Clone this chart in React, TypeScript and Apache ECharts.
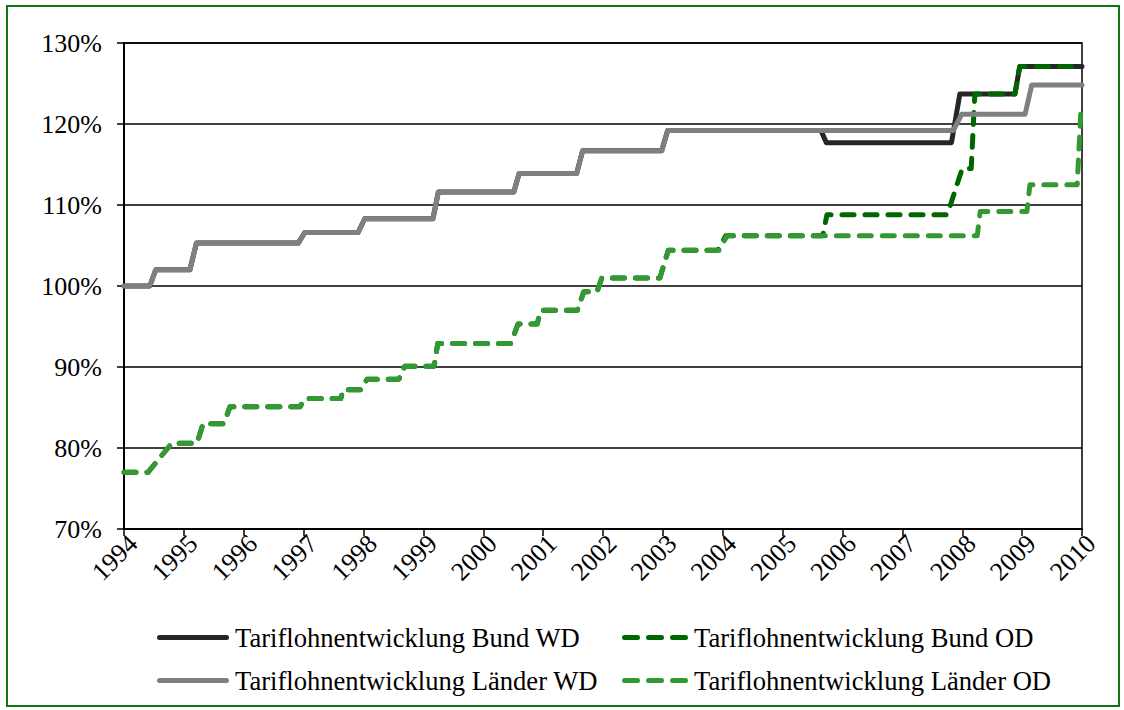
import React, { useEffect, useRef } from "react";
import * as echarts from "echarts";

const X_MIN = 1994;
const X_MAX = 2010;
const Y_MIN = 70;
const Y_MAX = 130;

const seriesNames = [
  "Tariflohnentwicklung Bund WD",
  "Tariflohnentwicklung Bund OD",
  "Tariflohnentwicklung Länder WD",
  "Tariflohnentwicklung Länder OD",
];

// [year, percent]
const bundWD: [number, number][] = [
  [1994.0, 100.0], [1994.43, 100.0], [1994.53, 102.0], [1995.1, 102.0], [1995.21, 105.3],
  [1996.91, 105.3], [1997.02, 106.6], [1997.91, 106.6], [1998.02, 108.3], [1999.16, 108.3],
  [1999.25, 111.6], [2000.51, 111.6], [2000.6, 113.9], [2001.56, 113.9], [2001.66, 116.7],
  [2002.98, 116.7], [2003.08, 119.2], [2005.64, 119.2], [2005.73, 117.7], [2007.82, 117.7],
  [2007.96, 123.7], [2008.88, 123.7], [2008.96, 127.1], [2010.0, 127.1],
];

const landerWD: [number, number][] = [
  [1994.0, 100.0], [1994.43, 100.0], [1994.53, 102.0], [1995.1, 102.0], [1995.21, 105.3],
  [1996.91, 105.3], [1997.02, 106.6], [1997.91, 106.6], [1998.02, 108.3], [1999.16, 108.3],
  [1999.25, 111.6], [2000.51, 111.6], [2000.6, 113.9], [2001.56, 113.9], [2001.66, 116.7],
  [2002.98, 116.7], [2003.08, 119.2], [2007.85, 119.2], [2007.99, 121.2], [2009.05, 121.2],
  [2009.16, 124.8], [2010.0, 124.8],
];

const bundOD: [number, number][] = [
  [1994.0, 77.0], [1994.4, 77.0], [1994.8, 80.6], [1995.22, 80.6], [1995.32, 83.0],
  [1995.67, 83.0], [1995.77, 85.1], [1996.94, 85.1], [1997.02, 86.1], [1997.62, 86.1],
  [1997.66, 87.2], [1997.96, 87.2], [1998.06, 88.5], [1998.59, 88.5], [1998.69, 90.1],
  [1999.18, 90.1], [1999.24, 92.9], [2000.46, 92.9], [2000.58, 95.3], [2000.9, 95.3],
  [2000.96, 97.0], [2001.57, 97.0], [2001.68, 99.3], [2001.9, 99.3], [2001.98, 101.0],
  [2002.95, 101.0], [2003.09, 104.4], [2003.92, 104.4], [2004.05, 106.2], [2005.67, 106.2],
  [2005.74, 108.8], [2007.75, 108.8], [2008.0, 114.5], [2008.15, 114.5], [2008.21, 123.7],
  [2008.88, 123.7], [2008.96, 127.1], [2010.0, 127.1],
];

const landerOD: [number, number][] = [
  [1994.0, 77.0], [1994.4, 77.0], [1994.8, 80.6], [1995.22, 80.6], [1995.32, 83.0],
  [1995.67, 83.0], [1995.77, 85.1], [1996.94, 85.1], [1997.02, 86.1], [1997.62, 86.1],
  [1997.66, 87.2], [1997.96, 87.2], [1998.06, 88.5], [1998.59, 88.5], [1998.69, 90.1],
  [1999.18, 90.1], [1999.24, 92.9], [2000.46, 92.9], [2000.58, 95.3], [2000.9, 95.3],
  [2000.96, 97.0], [2001.57, 97.0], [2001.68, 99.3], [2001.9, 99.3], [2001.98, 101.0],
  [2002.95, 101.0], [2003.09, 104.4], [2003.94, 104.4], [2004.07, 106.2], [2008.25, 106.2],
  [2008.3, 109.2], [2009.08, 109.2], [2009.13, 112.5], [2009.92, 112.5], [2009.98, 121.5],
];

const FONT = "Liberation Serif, Times New Roman, serif";

const SOLID_ICON = "path://M2.5,0H69.5A2.5,2.5,0,0,1,69.5,5H2.5A2.5,2.5,0,0,1,2.5,0Z";
const DASH_ICON =
  "path://M2.5,0H15.5A2.5,2.5,0,0,1,15.5,5H2.5A2.5,2.5,0,0,1,2.5,0Z" +
  "M26.5,0H39.5A2.5,2.5,0,0,1,39.5,5H26.5A2.5,2.5,0,0,1,26.5,0Z" +
  "M50.5,0H63.5A2.5,2.5,0,0,1,63.5,5H50.5A2.5,2.5,0,0,1,50.5,0Z";

export default function App() {
  const ref = useRef<HTMLDivElement>(null);

  useEffect(() => {
    if (!ref.current) return;
    const chart = echarts.init(ref.current, null, { renderer: "svg" });

    const solid = (color: string) => ({ color, width: 5, type: "solid", cap: "round", join: "round" });
    const dashed = (color: string) => ({
      color,
      width: 5,
      type: [12, 11],
      cap: "round",
      join: "round",
    });

    const mk = (name: string, data: [number, number][], ls: any) => ({
      name,
      type: "line",
      data,
      showSymbol: false,
      symbol: "none",
      itemStyle: { color: ls.color },
      lineStyle: ls,
      emphasis: { disabled: true },
    });

    const legendCommon = {
      orient: "vertical",
      top: 624,
      padding: 0,
      itemGap: 16,
      itemHeight: 5,
      selectedMode: false,
      textStyle: { fontFamily: FONT, fontSize: 26.6, color: "#000", padding: [0, 0, 0, 1] },
    };

    chart.setOption({
      animation: false,
      backgroundColor: "#fff",
      textStyle: { fontFamily: FONT },
      grid: {
        left: 124,
        top: 43,
        right: 42,
        bottom: 181,
        show: true,
        borderColor: "#000",
        borderWidth: 1.5,
        backgroundColor: "transparent",
      },
      legend: [
        {
          ...legendCommon,
          left: 157,
          itemWidth: 72,
          data: [
            { name: seriesNames[0], icon: SOLID_ICON },
            { name: seriesNames[2], icon: SOLID_ICON },
          ],
        },
        {
          ...legendCommon,
          left: 622,
          itemWidth: 66,
          data: [
            { name: seriesNames[1], icon: DASH_ICON },
            { name: seriesNames[3], icon: DASH_ICON },
          ],
        },
      ],
      xAxis: {
        type: "value",
        min: X_MIN,
        max: X_MAX,
        interval: 1,
        axisLine: { show: true, onZero: false, lineStyle: { color: "#000", width: 2 } },
        axisTick: { show: true, length: 7, lineStyle: { color: "#000", width: 1.5 } },
        splitLine: { show: false },
        axisLabel: {
          rotate: 45,
          margin: 1,
          verticalAlign: "top",
          color: "#000",
          fontFamily: FONT,
          fontSize: 26,
          formatter: (v: number) => String(Math.round(v)),
        },
      },
      yAxis: {
        type: "value",
        min: Y_MIN,
        max: Y_MAX,
        interval: 10,
        axisLine: { show: true, onZero: false, lineStyle: { color: "#000", width: 2 } },
        axisTick: { show: true, length: 7, lineStyle: { color: "#000", width: 1.5 } },
        splitLine: { show: true, lineStyle: { color: "#000", width: 1.5 } },
        axisLabel: {
          margin: 22,
          color: "#000",
          fontFamily: FONT,
          fontSize: 26,
          formatter: "{value}%",
        },
      },
      graphic: [
        {
          type: "rect",
          shape: { x: 7, y: 6, width: 1112, height: 700 },
          style: { fill: "none", stroke: "#107510", lineWidth: 2 },
          silent: true,
          z: 100,
        },
      ],
      series: [
        mk(seriesNames[0], bundWD, solid("#262626")),
        mk(seriesNames[1], bundOD, dashed("#006600")),
        mk(seriesNames[2], landerWD, solid("#808080")),
        mk(seriesNames[3], landerOD, dashed("#339933")),
      ],
    });

    return () => chart.dispose();
  }, []);

  return (
    <div
      ref={ref}
      style={{ position: "fixed", left: 0, top: 0, width: 1124, height: 710, background: "#fff" }}
    />
  );
}
